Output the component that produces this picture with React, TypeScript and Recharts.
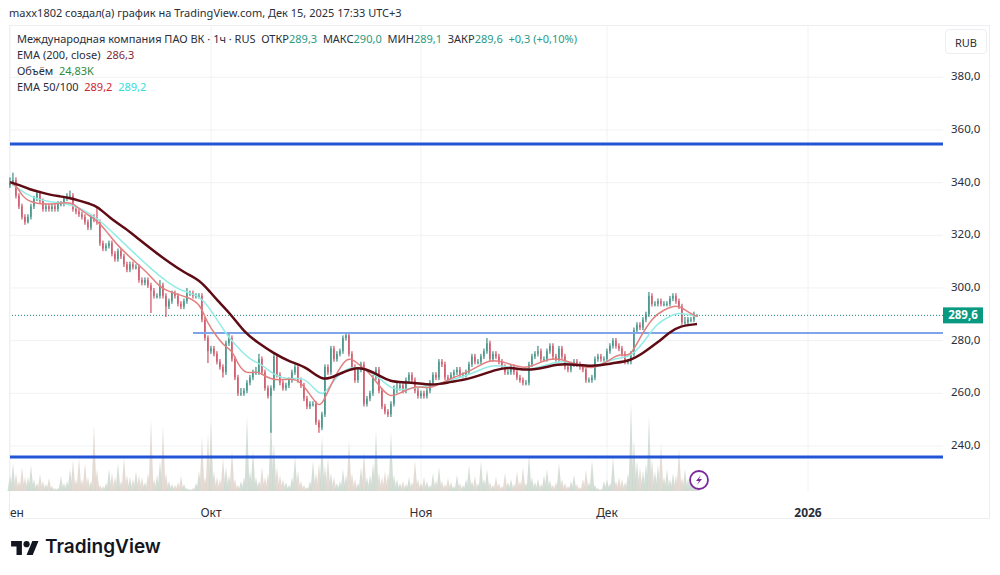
import { Bar, CartesianGrid, ComposedChart, Line, ReferenceLine, XAxis, YAxis } from 'recharts'

// candles, one slot per index on the time axis
const opens = [
  339,340,341,335,331,327,325,327,331,334,
  336,333,330,331,330,331,330,332,332,334,
  335,335,330,329,328,327,325,323,327,326,
  325,317,315,316,317,313,311,314,312,309,
  307,309,308,308,303,302,303,301,299,297,
  297,301,297,293,295,298,297,294,293,295,
  298,298,297,297,297,288,281,276,277,275,
  272,270,268,279,281,273,266,260,260,261,
  264,266,268,268,273,268,262,259,262,274,
  267,264,262,263,265,268,270,265,263,258,
  255,256,256,249,247,252,270,268,277,273,
  275,276,281,282,275,270,265,269,271,256,
  258,260,266,269,261,255,253,252,256,262,
  262,263,261,265,267,265,261,259,260,259,
  261,264,267,266,272,271,266,265,267,268,
  269,267,267,268,271,274,272,272,274,276,
  279,273,275,274,272,270,268,268,270,268,
  266,265,264,264,271,274,275,276,273,273,
  276,278,274,273,277,274,270,269,271,272,
  271,270,269,265,265,266,273,274,273,273,
  276,278,280,278,277,275,272,272,275,284,
  286,285,288,290,297,294,294,295,294,294,
  294,296,297,295,293,287,287,288,288,289.3,
]
const closes = [
  340,341,335,331,327,325,327,331,334,336,
  333,330,331,330,331,330,332,332,334,335,
  335,330,329,328,327,325,323,327,326,325,
  317,315,316,317,313,311,314,312,309,307,
  309,308,308,303,302,303,301,299,297,297,
  301,297,293,295,298,297,294,293,295,298,
  298,297,297,297,288,281,276,277,275,272,
  270,268,279,281,273,266,260,260,261,264,
  266,268,268,273,268,262,259,262,274,267,
  264,262,263,265,268,270,265,263,258,255,
  256,256,249,247,252,270,268,277,273,275,
  276,281,282,275,270,265,269,271,256,258,
  260,266,269,261,255,253,252,256,262,262,
  263,261,265,267,265,261,259,260,259,261,
  264,267,266,272,271,266,265,267,268,269,
  267,267,268,271,274,272,272,274,276,279,
  273,275,274,272,270,268,268,270,268,266,
  265,264,264,271,274,275,276,273,273,276,
  278,274,273,277,274,270,269,271,272,271,
  270,269,265,265,266,273,274,273,273,276,
  278,280,278,277,275,272,272,275,284,286,
  285,288,290,297,294,294,295,294,294,294,
  296,297,295,293,287,287,288,288,290,289.6,
]
const highs = [
  342,343.8,342,336,332,328,328,332,335,337,
  337,334,332,332,332,332,333,333,335,336,
  337,336,331,330,329,328,326,328,328,331,
  326,318,317,318,318,314,315,315,313,310,
  310,310,309,309,304,304,304,302,300,298,
  303,302,298,296,299,299,298,295,296,300,
  299,299,298,298,298,289,282,278,278,276,
  273,271,280,283,282,274,267,262,262,265,
  267,269,270,275,274,269,263,263,275,275,
  268,265,264,266,269,271,271,266,264,259,
  257,257,257,250,253,271,271,278,278,276,
  277,282,283,283,276,271,270,272,272,259,
  261,267,270,270,262,256,254,257,263,264,
  264,264,266,268,268,266,262,261,261,262,
  265,268,268,273,273,272,267,268,269,270,
  270,268,269,272,275,275,273,275,277,281,
  280,276,276,275,273,271,269,271,271,269,
  267,266,265,272,275,276,278,277,274,277,
  279,279,275,278,278,275,271,272,273,273,
  272,271,270,266,267,274,275,275,274,277,
  279,281,281,279,278,276,273,276,285,287,
  287,289,291,298.5,298,295,296,296,295,295,
  297,298,298,296,294,289,289,289,291,290,
]
const lows = [
  338,339,334,330,326,324,324.5,326,330,333,
  332,329,329,329,329,329,329,331,331,333,
  334,329,328,327,326,324,322,322,325,324,
  316,314,314,315,312,310,310,311,308,306,
  306,307,307,302,301,301,300,290.5,296,296,
  296,296,289,292,294,296,293,292,292,294,
  297,296,296,296,287,280,271.5,275,274,271,
  269,266,267,278,272,265,259,259,259,260,
  263,265,267,267,267,261,258,245,261,266,
  263,261,261,262,264,267,264,262,257,254,
  254,255,248,245,246,251,267,267,272,272,
  274,275,280,274,269,264,264,268,255,255,
  257,259,265,260,254,252,251,251,255,260,
  261,260,260,264,264,260,258,258,258,258,
  260,263,265,265,270,265,264,264,266,267,
  266,266,266,267,270,271,271,271,273,275,
  272,272,273,271,269,267,267,267,267,265,
  264,263,263,263,270,273,274,272,272,272,
  275,273,272,272,273,269,268,268,270,270,
  269,268,264,264,264,265,272,272,272,272,
  275,277,277,276,274,271,271,271,274,283,
  284,284,287,289,293,293,293,293,293,293,
  293,295,294,292,286,286,286,287,287,289,
]
// thousands
const volumes = [
  32,56,36,20,48,28,28,52,24,16,
  34,20,14,26,10,6,6,30,16,20,
  44,62,24,66,24,56,28,20,132,44,
  12,10,16,44,36,28,56,20,66,32,
  28,24,40,32,28,18,36,142,24,32,
  60,130,36,20,14,12,18,30,14,6,
  4,6,16,40,108,28,114,140,40,28,
  24,66,48,32,82,24,12,20,28,150,
  40,82,28,20,48,28,36,160,94,48,
  32,24,18,12,28,70,40,20,12,8,
  20,60,36,56,110,50,66,36,28,16,
  20,44,32,100,36,24,16,48,80,28,
  32,56,122,36,28,40,36,118,32,24,
  16,20,14,28,18,60,24,16,28,20,
  12,36,22,48,20,14,26,18,10,32,
  16,12,24,52,20,30,16,60,24,44,
  18,12,28,16,10,36,18,24,14,40,
  20,48,16,72,28,18,24,14,32,44,
  22,12,18,56,24,16,10,20,32,14,
  8,24,42,18,62,12,6,4,20,24,
  16,68,20,28,24,18,36,176,102,60,
  48,40,56,150,64,40,52,94,28,44,
  24,36,32,84,28,44,24,32,20,24.83,
]

const ema200At = [0,3.3,6.7,10,13.3,16.7,20,23.3,26.7,29,33.3,38.3,43.3,48.3,53.3,58.3,63.3,66.7,69,73.3,78.3,82.3,87.7,93.3,99,104.3,109,114.3,117.7,122.3,126.7,132.3,139,143.3,146.7,153.3,162.3,166.7,172.3,179,184.3,194.3,201,206.7,211,215.7,220,223.3,229]
const ema200 = [340.2,339.1,337.4,336.4,335.4,334.8,334.2,333.1,331.9,331.1,326.6,322.8,318.2,313.7,309.5,305.7,303,298.5,295.4,290.5,282.9,279.5,275.3,271.9,270,264.3,267,269.6,269.6,267.3,264.3,264.3,263.2,263.5,264.3,265.4,269.2,270,268.5,270,271.5,270,271.5,272.3,275.3,279.1,283.3,285.6,286.3]
const ema50At = [0,2.3,4.3,6.7,11.7,19,21,24.3,29,32.3,35.7,41,46.7,50,54.3,59,63.3,65.7,69,71.7,74,76,79,82.3,86.7,91,95.7,99,102.7,104.3,107.7,112.3,115.7,120,123.3,126.7,130,135.7,140,146.7,153.3,160,165.7,172.3,177.7,183.3,189,194.3,200,203.3,206.7,210,214.3,217.7,222.7,225.7,229]
const ema50 = [340.2,338.7,334.5,332.6,331.5,332.6,332.3,328.9,325.8,321.3,316.3,310.6,304.9,300,298.1,296.6,294.3,286.7,281.4,277.6,276.5,270.8,267,268.9,265.1,265.1,265.8,261.3,254.8,256.3,265.1,274.6,271.5,267.7,262.4,258.2,260.1,263.2,261.3,265.8,268.1,273.4,271.5,268.9,272.7,273.4,270.8,268.9,272.7,275.3,273.4,281.4,289,291.6,293.9,290.9,289.2]
const ema100At = [0,3.3,7.7,13.3,17.7,23.3,30,35.7,41,46.7,52.3,57.7,63.3,67.7,71.7,75.7,80,84.3,87.7,93.3,97.7,101,104.3,107.7,113.3,119,123.3,127.3,132.3,137.7,142.3,146.7,153.3,160,164.3,172.3,179,184.3,190,194.3,202.3,206.7,211,215.7,219,222.7,226.7,229]
const ema100 = [340.2,337.2,334.2,332.6,332.3,330.7,325.8,319.4,313.7,307.6,302.3,298.5,297.3,290.5,282.9,277.6,272.7,270.8,267,265.1,266.2,262.4,258.2,265.1,270.8,268.9,265.8,261.3,261.3,262.8,263.2,265.1,267,270.8,270.4,268.5,270.8,272.7,270.4,269.6,273.8,273.4,279.1,286.7,288.6,290.9,289.7,289.2]

const priceTicks = [240, 260, 280, 300, 320, 340, 360, 380]
const timeTicks = [0, 67, 137, 199, 266]
const timeLabels = ['ен', 'Окт', 'Ноя', 'Дек', '2026']
const lastPrice = 289.6
const upperLevel = 354.7
const lowerLevel = 235.8
const midLevel = 282.9

const UP = '#16786a'
const DOWN = '#c22f45'
const FONT = '"Noto Sans", sans-serif'

const rows = closes.map((close, i) => ({
  t: i,
  open: opens[i],
  close,
  high: highs[i],
  low: lows[i],
  range: [lows[i], highs[i]],
  volume: volumes[i],
}))
const lineRows = (at: number[], values: number[]) => at.map((t, i) => ({ t, value: values[i] }))

// wick and body both come from the bar the y scale gave us
const Candle = (p: any) => {
  const { x, y, width, height, payload } = p
  const color = payload.close >= payload.open ? UP : DOWN
  const perUnit = height / (payload.high - payload.low)
  const top = y + (payload.high - Math.max(payload.open, payload.close)) * perUnit
  const bodyH = Math.max(1, Math.abs(payload.close - payload.open) * perUnit)
  const mid = x + width / 2
  return (
    <g>
      <line x1={mid} x2={mid} y1={y} y2={y + height} stroke={color} strokeWidth={1} />
      <rect x={x} y={top} width={width} height={bodyH} fill={color} />
    </g>
  )
}

// the volume pane melts into humps with thin spikes, so draw each bar as a narrow peak
const VolumePeak = (p: any) => {
  const { x, y, width, height, payload } = p
  const fill = payload.close >= payload.open ? '#cdd8cf' : '#dfd5cd'
  const mid = x + width / 2
  return <path d={`M${x - 2},${y + height} L${mid},${y} L${x + width + 2},${y + height} Z`} fill={fill} fillOpacity={0.85} />
}

const TimeTick = (p: any) => {
  const i = timeTicks.indexOf(p.payload.value)
  return (
    <text
      x={p.x}
      y={p.y + 18}
      textAnchor={i === 0 ? 'start' : 'middle'}
      fontFamily={FONT}
      fontSize={12}
      fontWeight={i === 4 ? 700 : 400}
      fill="#2a2e39"
    >
      {timeLabels[i]}
    </text>
  )
}

const PriceTag = (p: any) => {
  const { x, y, width } = p.viewBox
  return (
    <g>
      <rect x={x + width} y={y - 8} width={40} height={16} fill="#089981" />
      <text x={x + width + 20} y={y + 4} textAnchor="middle" fontFamily={FONT} fontSize={11.5} fontWeight={700} fill="#fff">
        {lastPrice.toFixed(1).replace('.', ',')}
      </text>
    </g>
  )
}

const txt = (top: number, left: number): React.CSSProperties => ({
  position: 'absolute',
  top,
  left,
  fontFamily: FONT,
  fontSize: 11,
  lineHeight: '16px',
  color: '#2a2e39',
  whiteSpace: 'pre',
})

const G = ({ children }: any) => <span style={{ color: '#2a9a84' }}>{children}</span>

export default function App() {
  return (
    <div style={{ position: 'absolute', top: 0, left: 0, width: 1000, height: 575, background: '#fff', overflow: 'hidden' }}>
      <div style={{ position: 'absolute', left: 9, top: 25, width: 981, height: 494, border: '1px solid #eceef1', boxSizing: 'border-box' }} />
      <ComposedChart
        width={1000}
        height={575}
        data={rows}
        margin={{ top: 26, right: 10, bottom: 56, left: 10 }}
        style={{ position: 'absolute', top: 0, left: 0 }}
      >
        <CartesianGrid stroke="#f1f2f5" yAxisId="price" syncWithTicks />
        <XAxis
          dataKey="t"
          type="number"
          domain={[0, 311]}
          ticks={timeTicks}
          tick={<TimeTick />}
          interval={0}
          height={28}
          axisLine={false}
          tickLine={false}
        />
        <XAxis xAxisId="vol" dataKey="t" type="number" domain={[0, 311]} hide />
        <YAxis
          yAxisId="price"
          orientation="right"
          domain={[222.9, 399.5]}
          ticks={priceTicks}
          interval={0}
          width={47}
          axisLine={false}
          tickLine={false}
          tickFormatter={(v: number) => v.toFixed(1).replace('.', ',')}
          tick={{ fontFamily: FONT, fontSize: 11.5, fill: '#2a2e39', dy: -1 }}
        />
        <YAxis yAxisId="vol" domain={[0, 926]} hide />
        <Bar xAxisId="vol" yAxisId="vol" dataKey="volume" barSize={1} shape={<VolumePeak />} isAnimationActive={false} />
        <ReferenceLine yAxisId="price" y={lastPrice} stroke="#1f8a78" strokeDasharray="1 2" label={<PriceTag />} />
        <ReferenceLine yAxisId="price" y={upperLevel} stroke="#2255d6" strokeWidth={3} />
        <ReferenceLine yAxisId="price" y={lowerLevel} stroke="#2255d6" strokeWidth={3} />
        <ReferenceLine
          yAxisId="price"
          stroke="#7fa4ea"
          strokeWidth={2}
          segment={[{ x: 61, y: midLevel }, { x: 311, y: midLevel }]}
        />
        <Bar yAxisId="price" dataKey="range" barSize={2} shape={<Candle />} isAnimationActive={false} />
        <Line yAxisId="price" data={lineRows(ema100At, ema100)} dataKey="value" type="basis" stroke="#93ece6" strokeWidth={1.5} dot={false} activeDot={false} isAnimationActive={false} />
        <Line yAxisId="price" data={lineRows(ema50At, ema50)} dataKey="value" type="basis" stroke="#e27f7f" strokeWidth={1.5} dot={false} activeDot={false} isAnimationActive={false} />
        <Line yAxisId="price" data={lineRows(ema200At, ema200)} dataKey="value" type="basis" stroke="#5e0b14" strokeWidth={2.5} dot={false} activeDot={false} isAnimationActive={false} />
      </ComposedChart>

      <div style={txt(5, 9)}>maxx1802 создал(а) график на TradingView.com, Дек 15, 2025 17:33 UTC+3</div>
      <div style={txt(31, 17)}>
        Международная компания ПАО ВК · 1ч · RUS  ОТКР<G>289,3</G>  МАКС<G>290,0</G>  МИН<G>289,1</G>  ЗАКР<G>289,6</G>  <G>+0,3 (+0,10%)</G>
      </div>
      <div style={txt(47, 17)}>
        EMA (200, close)  <span style={{ color: '#7f2a36' }}>286,3</span>
      </div>
      <div style={txt(63, 17)}>
        Объём  <span style={{ color: '#2e8b3e' }}>24,83K</span>
      </div>
      <div style={txt(79, 17)}>
        EMA 50/100  <span style={{ color: '#cc2431' }}>289,2</span>  <span style={{ color: '#2fdede' }}>289,2</span>
      </div>

      <div
        style={{
          ...txt(29, 945),
          width: 42,
          height: 25,
          lineHeight: '25px',
          textAlign: 'center',
          border: '1px solid #eceef1',
          borderRadius: 4,
          boxSizing: 'border-box',
        }}
      >
        RUB
      </div>

      <svg width={22} height={22} style={{ position: 'absolute', left: 688, top: 469 }}>
        <circle cx={11} cy={11} r={9} fill="#fff" stroke="#7b2a9c" strokeWidth={1.8} />
        <path d="M13 6 L8 12 H11 L9 16 L14 10 H11 Z" fill="#7b2a9c" />
      </svg>

      <svg width={28} height={17} viewBox="0 0 36 22" style={{ position: 'absolute', left: 11, top: 538 }}>
        <path d="M14 22H7V11H0V4h14v18zM28 22h-8l7.5-18h8L28 22z" fill="#131722" />
        <circle cx={20} cy={8} r={4} fill="#131722" />
      </svg>
      <div style={{ position: 'absolute', left: 45, top: 533, fontFamily: 'Inter, sans-serif', fontWeight: 600, fontSize: 19, lineHeight: '28px', color: '#131722' }}>
        TradingView
      </div>
    </div>
  )
}
